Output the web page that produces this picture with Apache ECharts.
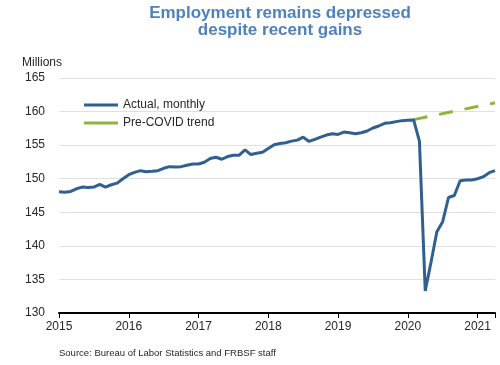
<!DOCTYPE html>
<html>
<head>
<meta charset="utf-8">
<script src="https://cdn.jsdelivr.net/npm/echarts@6/dist/echarts.min.js"></script>
<style>
html,body{margin:0;padding:0;background:#fff;}
#c{width:500px;height:365px;}
</style>
</head>
<body>
<div id="c"></div>
<script>
// Monthly data Jan 2015 .. Apr 2021 (millions)
var startYear = 2015;
var actualMonthly = [
  148.07, 148.0, 148.1, 148.5, 148.75, 148.7, 148.75, 149.15, 148.75, 149.1, 149.35, 150.0,
  150.6, 150.95, 151.2, 151.05, 151.1, 151.2, 151.55, 151.8, 151.75, 151.8, 152.0, 152.2,
  152.2, 152.45, 153.0, 153.2, 152.9, 153.3, 153.5, 153.5, 154.3, 153.6, 153.8, 153.95,
  154.5, 155.05, 155.25, 155.35, 155.6, 155.75, 156.2, 155.55, 155.85, 156.2, 156.5, 156.7,
  156.6, 156.95, 156.85, 156.7, 156.85, 157.1, 157.55, 157.85, 158.25, 158.35, 158.5, 158.65,
  158.7, 158.75, 155.6, 133.3, 137.6, 142.1, 143.6, 147.2, 147.5, 149.7, 149.8, 149.8,
  150.0, 150.3, 150.9, 151.2
];
// Pre-COVID trend: Feb 2020 to Apr 2021
var trendDates = [2020 + 1/12, 2021 + 3/12];
var trendValues = [158.8, 161.3];
var yTicks = {min: 130, max: 165, interval: 5};
var xTicks = {min: 2015, max: 2021.25, interval: 1};

var actualData = actualMonthly.map(function(v, i){ return [startYear + i/12, v]; });
var trendData = trendDates.map(function(d, i){ return [d, trendValues[i]]; });

var chart = echarts.init(document.getElementById('c'), null, {renderer: 'canvas'});
var font = 'Liberation Sans, Arial, sans-serif';
chart.setOption({
  animation: false,
  backgroundColor: '#fff',
  title: {
    text: 'Employment remains depressed\ndespite recent gains',
    left: 275, top: 0, textAlign: 'center',
    textStyle: {color: '#4f81bd', fontFamily: font, fontWeight: 'bold', fontSize: 17, lineHeight: 17}
  },
  graphic: [
    {type: 'text', left: 22, top: 57, style: {text: 'Millions', fill: '#262626', font: '12px ' + font}},
    {type: 'text', left: 59, top: 348, style: {text: 'Source: Bureau of Labor Statistics and FRBSF staff', fill: '#262626', font: '9.5px ' + font}}
  ],
  legend: {
    left: 79, top: 94, orient: 'vertical', itemGap: 6,
    itemWidth: 34, itemHeight: 12,
    textStyle: {fontFamily: font, fontSize: 12, color: '#262626'},
    data: [
      {name: 'Actual, monthly', icon: 'path://M0,5 L34,5 L34,8 L0,8 Z', itemStyle: {color: '#2f6090'}},
      {name: 'Pre-COVID trend', icon: 'path://M0,5 L34,5 L34,8 L0,8 Z', itemStyle: {color: '#8db43e'}}
    ]
  },
  grid: {left: 59, right: 5, top: 78, bottom: 52},
  xAxis: {
    type: 'value', min: xTicks.min, max: xTicks.max, interval: xTicks.interval,
    axisLine: {show: true, onZero: false, lineStyle: {color: '#000', width: 2}},
    axisTick: {show: true, length: 5, lineStyle: {color: '#000', width: 1}},
    splitLine: {show: false},
    axisLabel: {color: '#262626', fontFamily: font, fontSize: 12, margin: 8,
      formatter: function(v){ return Math.abs(v - Math.round(v)) < 1e-6 ? String(Math.round(v)) : ''; }}
  },
  yAxis: {
    type: 'value', min: yTicks.min, max: yTicks.max, interval: yTicks.interval,
    axisLine: {show: false}, axisTick: {show: false},
    splitLine: {lineStyle: {color: '#e0e0e0', width: 1}},
    axisLabel: {color: '#262626', fontFamily: font, fontSize: 12, margin: 14}
  },
  series: [
    {name: 'Actual, monthly', type: 'line', data: actualData, showSymbol: false, z: 3,
      lineStyle: {color: '#2f6090', width: 3}, itemStyle: {color: '#2f6090'}},
    {name: 'Pre-COVID trend', type: 'line', data: trendData, showSymbol: false, z: 2,
      lineStyle: {color: '#8db43e', width: 3, type: [14, 12]}, itemStyle: {color: '#8db43e'}}
  ]
});
</script>
</body>
</html>
